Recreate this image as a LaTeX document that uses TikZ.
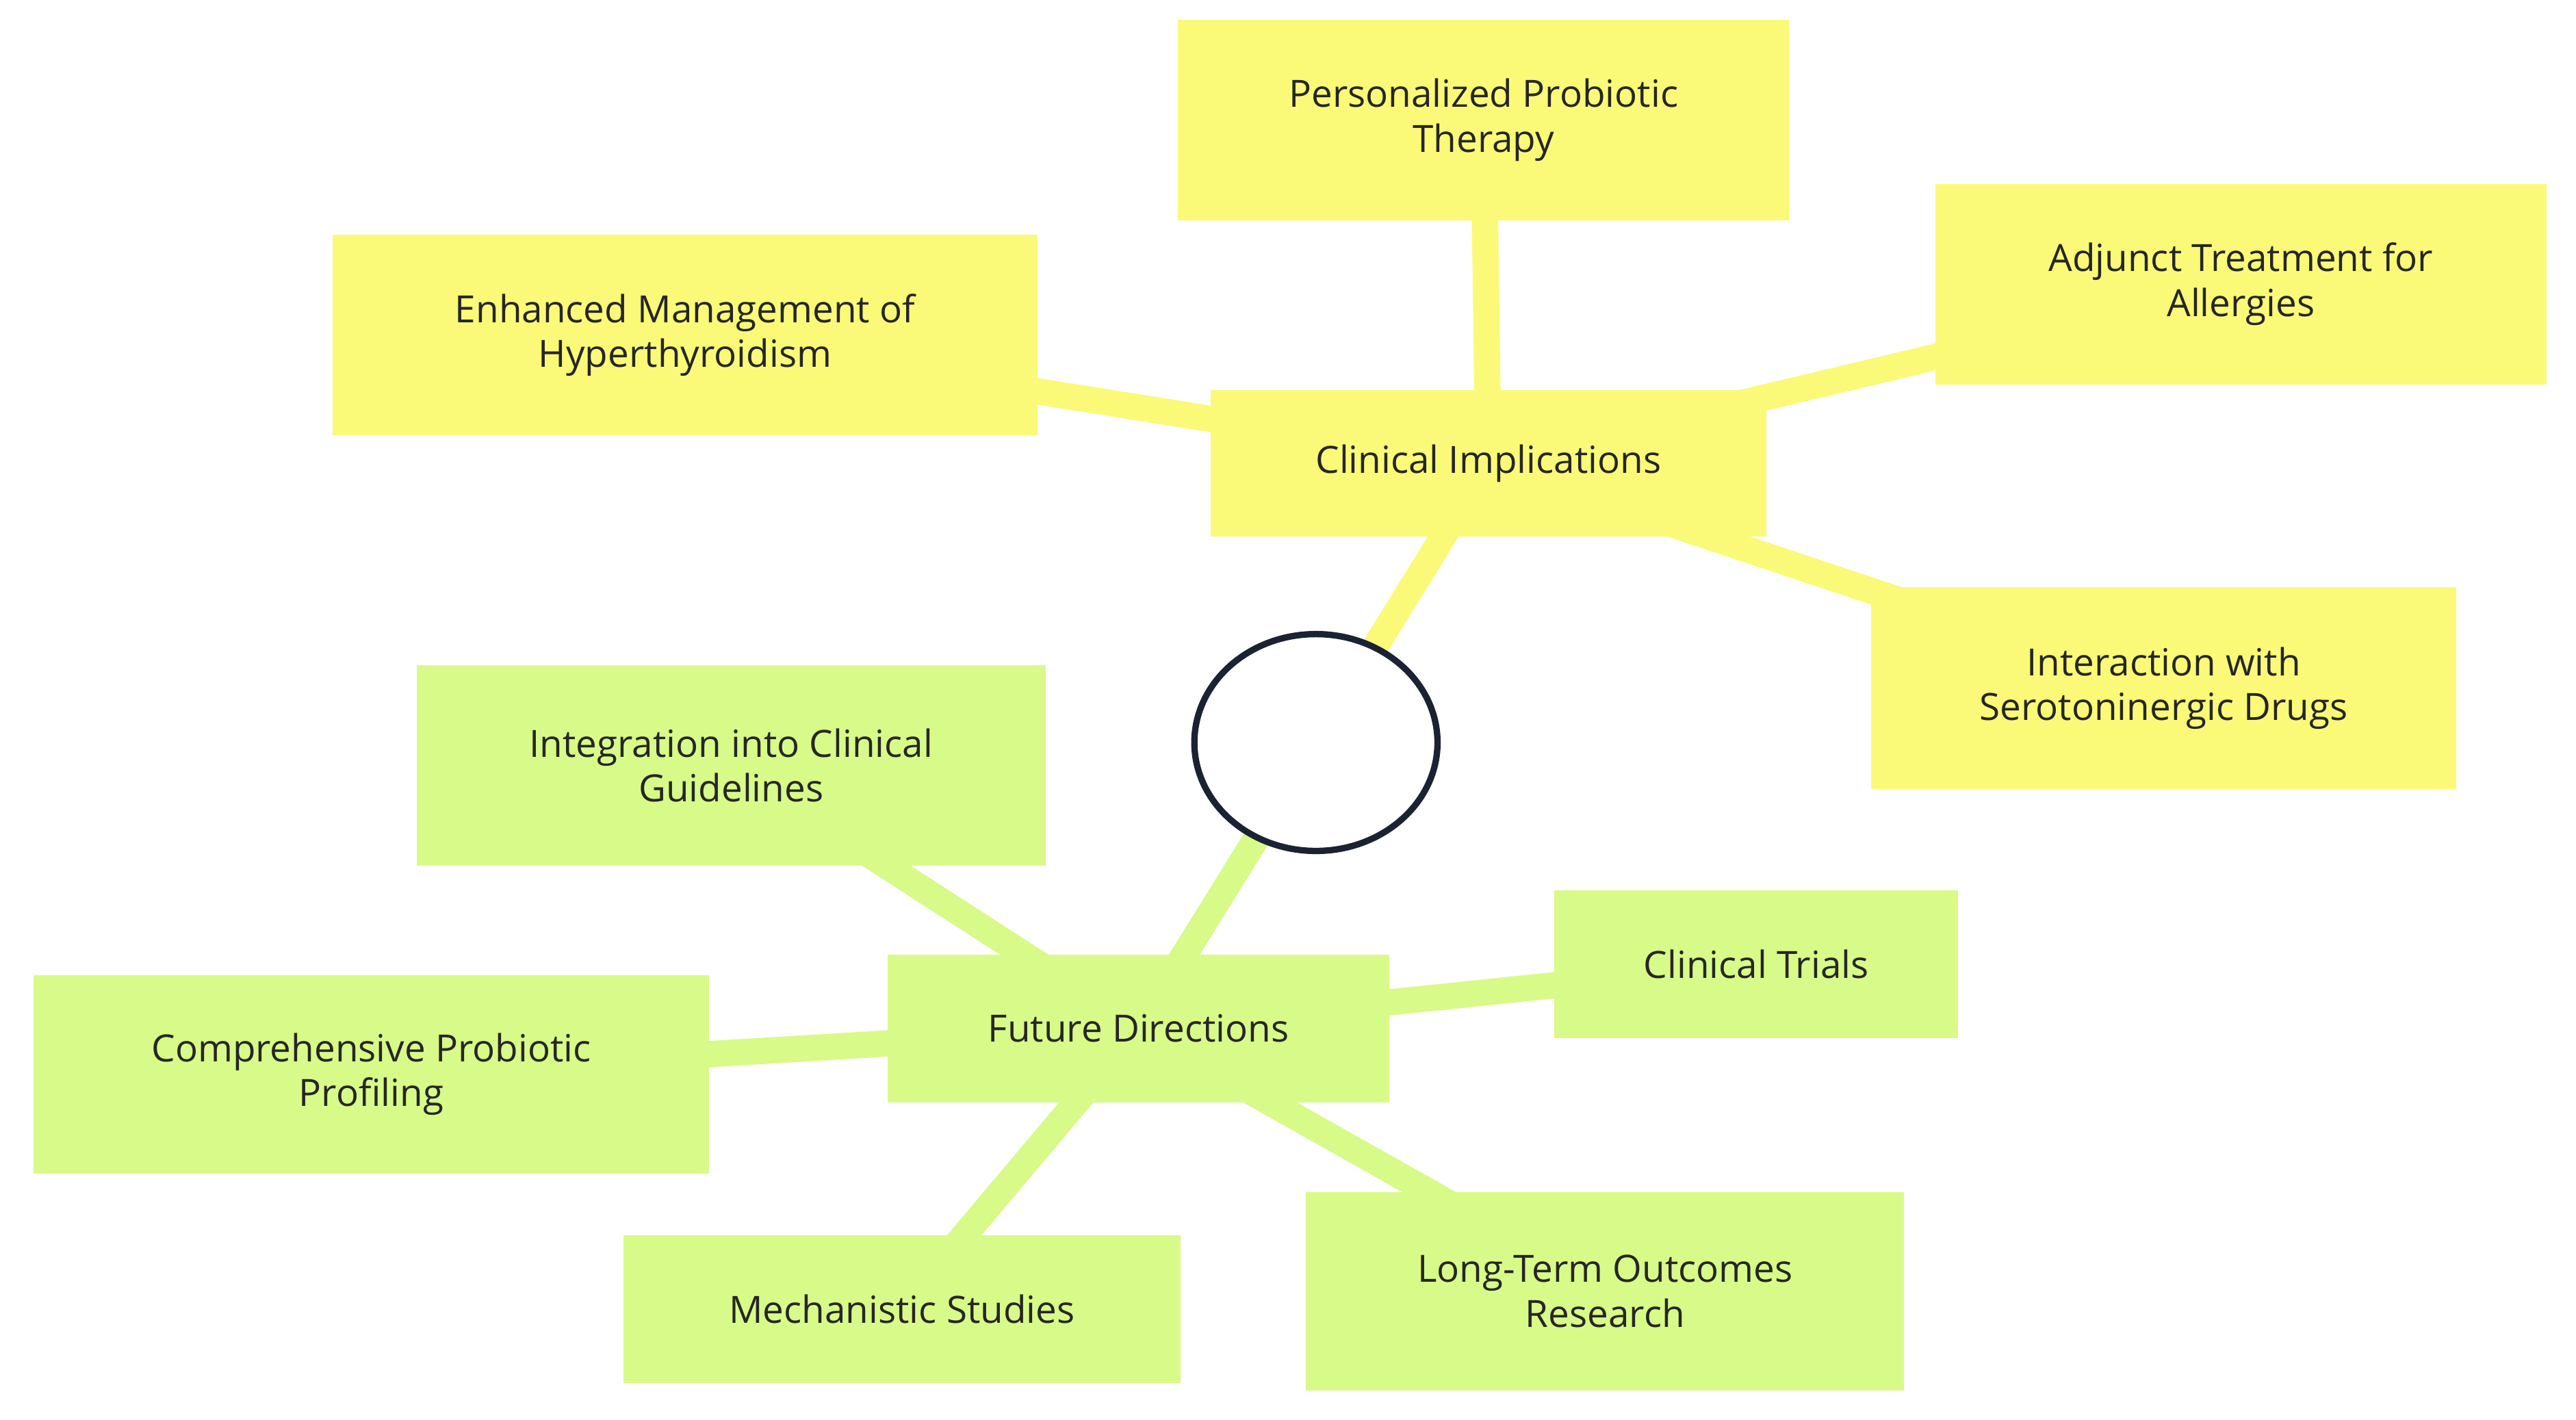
\documentclass[tikz,border=0pt]{standalone}
\usepackage{fontspec}
\setmainfont{Open Sans}
\usetikzlibrary{backgrounds,shapes.geometric}
\definecolor{ylw}{HTML}{FAFA78}
\definecolor{grn}{HTML}{D8FA88}
\definecolor{ring}{HTML}{1B2233}
\begin{document}
\begin{tikzpicture}[x=0.02cm,y=-0.02cm,
  box/.style={draw=none,inner sep=0pt,align=center,font=\fontsize{13}{15.5}\selectfont,text=black!85},
  yb/.style={box,fill=ylw},
  gb/.style={box,fill=grn},
  yl/.style={line width=0.32cm,ylw},
  gl/.style={line width=0.32cm,grn}]
\useasboundingbox (0,0) rectangle (1568,864);
\node[yb,minimum width=338*0.02cm,minimum height=89*0.02cm] (ci) at (906,282) {Clinical Implications};
\node[yb,minimum width=372*0.02cm,minimum height=122*0.02cm] (pp) at (903,73) {Personalized Probiotic\\Therapy};
\node[yb,minimum width=372*0.02cm,minimum height=122*0.02cm] (aa) at (1364,173) {Adjunct Treatment for\\Allergies};
\node[yb,minimum width=429*0.02cm,minimum height=122*0.02cm] (em) at (417,204) {Enhanced Management of\\Hyperthyroidism};
\node[yb,minimum width=356*0.02cm,minimum height=123*0.02cm] (is) at (1317,419) {Interaction with\\Serotoninergic Drugs};
\node[gb,minimum width=305*0.02cm,minimum height=90*0.02cm] (fd) at (693,626) {Future Directions};
\node[gb,minimum width=383*0.02cm,minimum height=122*0.02cm] (ig) at (445,466) {Integration into Clinical\\Guidelines};
\node[gb,minimum width=411*0.02cm,minimum height=121*0.02cm] (cp) at (226,654) {Comprehensive Probiotic\\Profiling};
\node[gb,minimum width=339*0.02cm,minimum height=90*0.02cm] (ms) at (549,797) {Mechanistic Studies};
\node[gb,minimum width=364*0.02cm,minimum height=121*0.02cm] (lt) at (977,786) {Long-Term Outcomes\\Research};
\node[gb,minimum width=246*0.02cm,minimum height=90*0.02cm] (ct) at (1069,587) {Clinical Trials};
\node[draw=ring,line width=2.2pt,fill=white,ellipse,minimum width=148*0.02cm,minimum height=132*0.02cm,inner sep=0pt] (c) at (801,452) {};
\begin{pgfonlayer}{background}
\draw[yl] (ci.center) -- (c.center);
\draw[yl] (ci.center) -- (pp.center);
\draw[yl] (ci.center) -- (aa.center);
\draw[yl] (ci.center) -- (em.center);
\draw[yl] (ci.center) -- (is.center);
\draw[gl] (fd.center) -- (c.center);
\draw[gl] (fd.center) -- (ig.center);
\draw[gl] (fd.center) -- (cp.center);
\draw[gl] (fd.center) -- (ms.center);
\draw[gl] (fd.center) -- (lt.center);
\draw[gl] (fd.center) -- (ct.center);
\end{pgfonlayer}
\end{tikzpicture}
\end{document}
